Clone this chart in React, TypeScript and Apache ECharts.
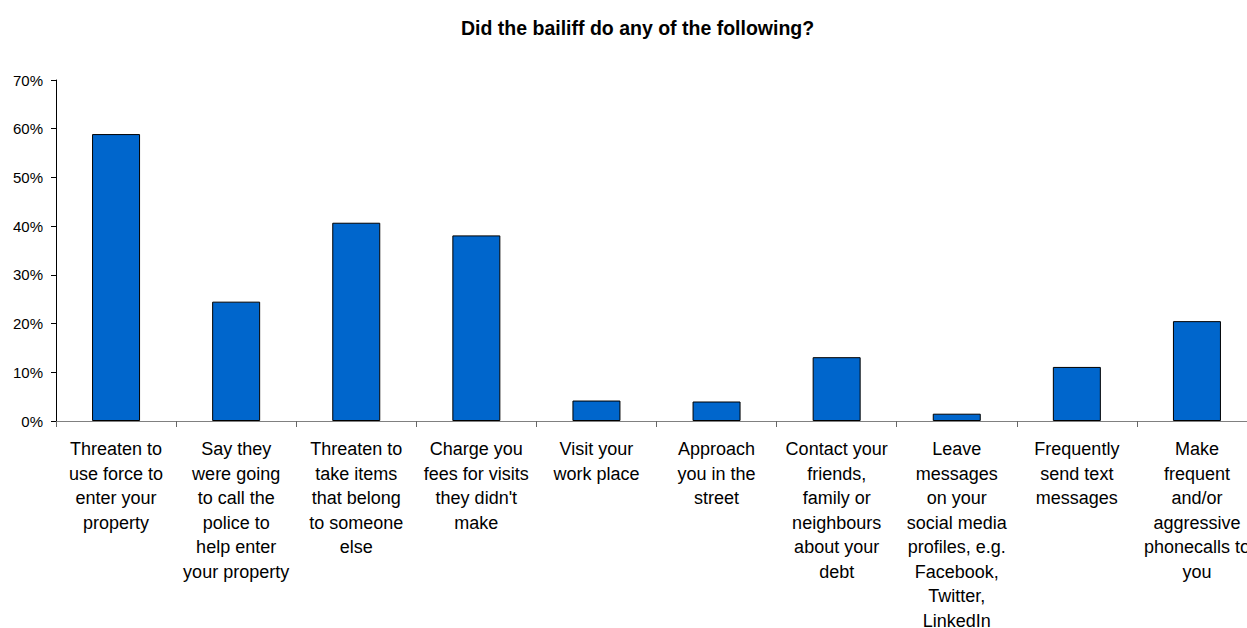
import React, { useEffect, useRef } from "react";
import * as echarts from "echarts";

const titleText = "Did the bailiff do any of the following?";
const categories = [
  "Threaten to\nuse force to\nenter your\nproperty",
  "Say they\nwere going\nto call the\npolice to\nhelp enter\nyour property",
  "Threaten to\ntake items\nthat belong\nto someone\nelse",
  "Charge you\nfees for visits\nthey didn't\nmake",
  "Visit your\nwork place",
  "Approach\nyou in the\nstreet",
  "Contact your\nfriends,\nfamily or\nneighbours\nabout your\ndebt",
  "Leave\nmessages\non your\nsocial media\nprofiles, e.g.\nFacebook,\nTwitter,\nLinkedIn",
  "Frequently\nsend text\nmessages",
  "Make\nfrequent\nand/or\naggressive\nphonecalls to\nyou",
];
const values = [58.9, 24.5, 40.7, 38.1, 4.2, 4.0, 13.1, 1.5, 11.1, 20.5];
const yMin = 0;
const yMax = 70;
const yStep = 10;

const FONT = "'Liberation Sans', Arial, Helvetica, sans-serif";

export default function App() {
  const ref = useRef<HTMLDivElement>(null);
  useEffect(() => {
    if (!ref.current) return;
    const chart = echarts.init(ref.current, null, { renderer: "svg" });
    chart.setOption({
      animation: false,
      backgroundColor: "#ffffff",
      title: {
        text: titleText,
        left: 456,
        top: 13,
        textStyle: {
          fontFamily: FONT,
          fontSize: 19.5,
          fontWeight: "bold",
          color: "#000",
        },
      },
      grid: {
        left: 56,
        width: 1201,
        top: 80,
        height: 341,
        containLabel: false,
        outerBoundsMode: "none",
      },
      xAxis: {
        type: "category",
        data: categories,
        axisLine: { show: true, lineStyle: { color: "#808080", width: 1 } },
        axisTick: { show: true, length: 6, alignWithLabel: false, lineStyle: { color: "#666" } },
        axisLabel: {
          interval: 0,
          margin: 16,
          fontFamily: FONT,
          fontSize: 18,
          lineHeight: 24.5,
          color: "#000",
          align: "center",
        },
        splitLine: { show: false },
      },
      yAxis: {
        type: "value",
        min: yMin,
        max: yMax,
        interval: yStep,
        axisLine: { show: true, lineStyle: { color: "#000", width: 1 } },
        axisTick: { show: true, length: 5, lineStyle: { color: "#000" } },
        axisLabel: {
          formatter: "{value}%",
          margin: 13,
          fontFamily: FONT,
          fontSize: 15,
          color: "#000",
        },
        splitLine: { show: false },
      },
      series: [
        {
          type: "bar",
          data: values,
          barWidth: 48,
          itemStyle: { color: "#0066CC", borderColor: "#000", borderWidth: 1 },
        },
      ],
    });
    return () => chart.dispose();
  }, []);
  return (
    <div
      ref={ref}
      style={{ position: "fixed", left: 0, top: 0, width: 1247, height: 628, background: "#fff" }}
    />
  );
}
